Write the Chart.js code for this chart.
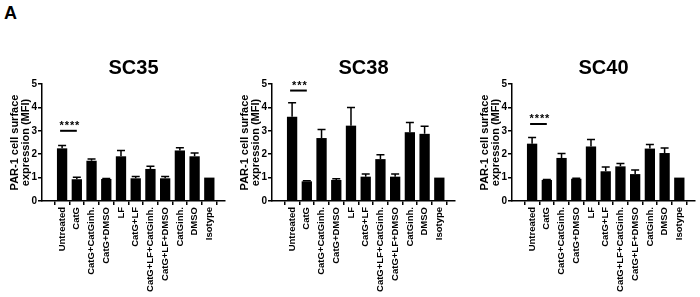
<!DOCTYPE html>
<html>
<head>
<meta charset="utf-8">
<script src="https://cdn.jsdelivr.net/npm/chart.js@4/dist/chart.umd.min.js"></script>
<style>
  body { margin: 0; background: #fff; }
  #wrap { position: relative; width: 700px; height: 297px; overflow: hidden; }
  .panel { position: absolute; top: 0; width: 230px; height: 297px; }
  #letter { position: absolute; left: 4px; top: 3px; font: bold 18px "Liberation Sans", Arial, sans-serif; }
</style>
</head>
<body>
<div id="wrap">
  <div id="letter">A</div>
  <div class="panel" style="left:0px"><canvas id="c35"></canvas></div>
  <div class="panel" style="left:230px"><canvas id="c38"></canvas></div>
  <div class="panel" style="left:470px"><canvas id="c40"></canvas></div>
</div>
<script>
// treatment groups on the x axis
const categories = ['Untreated', 'CatG', 'CatG+CatGinh.', 'CatG+DMSO', 'LF', 'CatG+LF',
  'CatG+LF+CatGinh.', 'CatG+LF+DMSO', 'CatGinh.', 'DMSO', 'Isotype'];

// mean MFI and top of error bar (mean + SEM)
const sc35Mean = [2.25, 0.93, 1.72, 0.94, 1.91, 0.97, 1.37, 0.97, 2.16, 1.91, 1.0];
const sc35Err  = [2.37, 1.01, 1.79, 0.96, 2.16, 1.05, 1.48, 1.05, 2.28, 2.05, 1.0];
const sc38Mean = [3.60, 0.84, 2.69, 0.90, 3.22, 1.04, 1.79, 1.04, 2.94, 2.87, 1.0];
const sc38Err  = [4.20, 0.87, 3.06, 0.95, 4.00, 1.15, 1.98, 1.15, 3.36, 3.19, 1.0];
const sc40Mean = [2.45, 0.90, 1.84, 0.95, 2.33, 1.27, 1.48, 1.15, 2.24, 2.05, 1.0];
const sc40Err  = [2.71, 0.92, 2.03, 0.97, 2.63, 1.45, 1.60, 1.33, 2.41, 2.26, 1.0];

// y axis ticks
const yTicks = [0, 1, 2, 3, 4, 5];

// significance bracket Untreated vs CatG
const sigLevel = { c35: 3.0, c38: 4.72, c40: 3.29 };
const sigStars = { c35: '****', c38: '***', c40: '****' };

const FONT = '"Liberation Sans", Arial, sans-serif';

// draws the upper error bars and the significance line
const extrasPlugin = {
  id: 'extras',
  afterDatasetsDraw(chart, args, opts) {
    const ctx = chart.ctx;
    const xs = chart.scales.x, ys = chart.scales.y;
    const means = chart.data.datasets[0].data;
    ctx.save();
    ctx.strokeStyle = '#000';
    ctx.lineWidth = 1.5;
    opts.err.forEach((e, i) => {
      if (e <= means[i].y) return;
      const x = xs.getPixelForValue(i);
      const y1 = ys.getPixelForValue(means[i].y);
      const y2 = ys.getPixelForValue(e);
      ctx.beginPath();
      ctx.moveTo(x, y1);
      ctx.lineTo(x, y2);
      ctx.moveTo(x - 4, y2);
      ctx.lineTo(x + 4, y2);
      ctx.stroke();
    });
    // significance
    const ly = ys.getPixelForValue(opts.sig);
    const lx1 = xs.getPixelForValue(0) - 2;
    const lx2 = xs.getPixelForValue(1);
    ctx.lineWidth = 2;
    ctx.beginPath();
    ctx.moveTo(lx1, ly);
    ctx.lineTo(lx2, ly);
    ctx.stroke();
    ctx.fillStyle = '#000';
    ctx.font = 'bold 11px ' + FONT;
    ctx.textAlign = 'center';
    ctx.textBaseline = 'alphabetic';
    ctx.fillText(opts.stars.split('').join('\u200a'), (lx1 + lx2) / 2 + 1, ly - 2);
    ctx.restore();
  }
};

function makeChart(id, title, means, errs) {
  new Chart(document.getElementById(id), {
    type: 'bar',
    data: {
      datasets: [{
        data: means.map((v, i) => ({ x: i, y: v })),
        backgroundColor: '#000',
        borderWidth: 0,
        barPercentage: 0.7,
        categoryPercentage: 1.0
      }]
    },
    options: {
      responsive: false,
      animation: false,
      devicePixelRatio: 1,
      layout: { padding: { left: 0, right: 5, top: 0, bottom: 0 } },
      plugins: {
        legend: { display: false },
        tooltip: { enabled: false },
        title: {
          display: true,
          text: title,
          fullSize: false,
          color: '#000',
          font: { family: FONT, size: 20, weight: 'bold' },
          padding: { top: 56, bottom: 4 }
        },
        extras: { err: errs, sig: sigLevel[id], stars: sigStars[id] }
      },
      scales: {
        x: {
          type: 'linear',
          min: -0.8,
          max: 10.5,
          afterFit: s => { s.height = 96; },
          border: { color: '#000', width: 1.5 },
          grid: { drawOnChartArea: false, color: '#000', lineWidth: 1.5, tickLength: 4 },
          ticks: {
            stepSize: 1,
            includeBounds: false,
            autoSkip: false,
            maxRotation: 90,
            minRotation: 90,
            padding: 2,
            color: '#000',
            font: { family: FONT, size: 9.5, weight: 'bold' },
            callback: v => categories[v]
          }
        },
        y: {
          min: 0,
          max: 5,
          afterFit: s => { s.width = 42; },
          afterBuildTicks: s => { s.ticks = yTicks.map(v => ({ value: v })); },
          border: { color: '#000', width: 1.5 },
          grid: { drawOnChartArea: false, color: '#000', lineWidth: 1.5, tickLength: 4 },
          ticks: {
            padding: 1,
            color: '#000',
            font: { family: FONT, size: 10, weight: 'bold' }
          },
          title: {
            display: true,
            text: ['PAR-1 cell surface', 'expression (MFI)'],
            color: '#000',
            font: { family: FONT, size: 11, weight: 'bold', lineHeight: 1.05 },
            padding: { top: 9, bottom: 0 }
          }
        }
      }
    },
    plugins: [extrasPlugin]
  });
}

document.querySelectorAll('canvas').forEach(c => { c.width = 230; c.height = 297; });
makeChart('c35', 'SC35', sc35Mean, sc35Err);
makeChart('c38', 'SC38', sc38Mean, sc38Err);
makeChart('c40', 'SC40', sc40Mean, sc40Err);
</script>
</body>
</html>
